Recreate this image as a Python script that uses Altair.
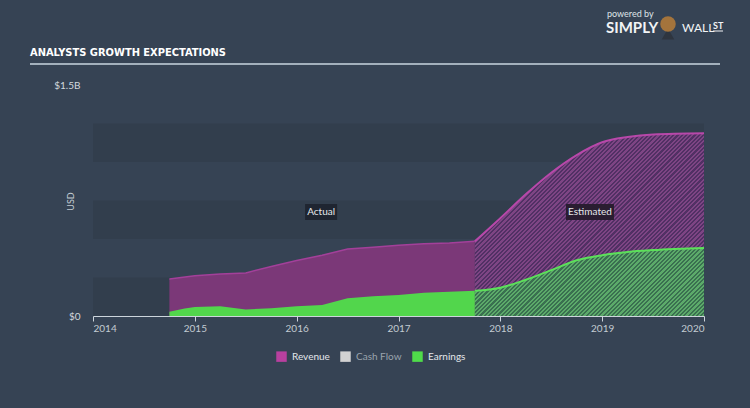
import altair as alt
import pandas as pd

# ---------------- data (values in $ billions) ----------------
rev_act_year = [2014.75, 2015.0, 2015.25, 2015.5, 2015.75, 2016.0, 2016.25, 2016.5, 2016.75, 2017.0, 2017.25, 2017.5, 2017.75]
rev_act_val = [0.240, 0.262, 0.272, 0.280, 0.322, 0.360, 0.395, 0.435, 0.447, 0.459, 0.469, 0.474, 0.485]

earn_act_year = [2014.75, 2014.9, 2015.0, 2015.25, 2015.5, 2015.75, 2016.0, 2016.25, 2016.5, 2016.75, 2017.0, 2017.25, 2017.5, 2017.75]
earn_act_val = [0.028, 0.048, 0.058, 0.063, 0.043, 0.050, 0.064, 0.071, 0.115, 0.128, 0.137, 0.151, 0.158, 0.164]

rev_est_year = [2017.75, 2018.0, 2018.25, 2018.5, 2018.75, 2019.0, 2019.25, 2019.5, 2020.0]
rev_est_val = [0.485, 0.635, 0.790, 0.930, 1.045, 1.128, 1.162, 1.178, 1.186]

earn_est_year = [2017.75, 2018.0, 2018.25, 2018.5, 2018.75, 2019.0, 2019.25, 2019.5, 2020.0]
earn_est_val = [0.164, 0.184, 0.235, 0.298, 0.362, 0.395, 0.416, 0.428, 0.442]

band_lo = [0.0, 0.5, 1.0]
band_hi = [0.25, 0.75, 1.25]

series_names = ["Revenue", "Cash Flow", "Earnings"]
series_colors = ["#b8409f", "#d2d2d2", "#4fdc4a"]

annot_text = ["Actual", "Estimated"]
annot_year = [2016.24, 2018.88]
annot_val = [0.675, 0.675]

title_text = "ANALYSTS GROWTH EXPECTATIONS"

# ---------------- layout ----------------
BG = "#364354"
W, H = 611, 231
X_DOM = [2014, 2020]
Y_DOM = [0, 1.5]
px_per_year = W / (X_DOM[1] - X_DOM[0])
px_per_b = H / (Y_DOM[1] - Y_DOM[0])


def hatch(c1, c2, w_px, h_px, period=3.0):
    r = w_px / h_px
    b = (r + 1) / (r * r + 1)
    a = r * b
    n = int(round((w_px + h_px) / 2 ** 0.5 / period))
    stops = []
    for i in range(n):
        o0, o1, o2 = i / n, (i + 0.5) / n, (i + 1) / n
        stops += [
            alt.GradientStop(offset=o0, color=c1),
            alt.GradientStop(offset=o1, color=c1),
            alt.GradientStop(offset=o1, color=c2),
            alt.GradientStop(offset=o2, color=c2),
        ]
    return alt.Gradient(gradient="linear", stops=stops, x1=0, y1=0, x2=a, y2=b)


est_w = (rev_est_year[-1] - rev_est_year[0]) * px_per_year
rev_hatch = hatch("#513064", "#7e4584", est_w, max(rev_est_val) * px_per_b)
earn_hatch = hatch("#3a7050", "#5caa6a", est_w, max(earn_est_val) * px_per_b)

xscale = alt.Scale(domain=X_DOM, nice=False, zero=False)
yscale = alt.Scale(domain=Y_DOM, nice=False)

x_axis = alt.Axis(
    values=[2014, 2015, 2016, 2017, 2018, 2019, 2020], format="d", title=None,
    domainColor="#cdd5dc", domainWidth=1.2, tickColor="#cdd5dc", tickSize=5,
    labelColor="#c3cbd2", labelFont="Lato", labelFontSize=10, labelPadding=2,
    grid=False,
)
y_axis = alt.Axis(
    values=[0, 1.5], labelExpr="datum.value == 0 ? '$0' : '$1.5B'",
    domain=False, ticks=False, grid=False, labelPadding=13,
    labelColor="#d3d9de", labelFont="Lato", labelFontSize=10,
    title="USD", titleColor="#c3cbd2", titleFont="Lato", titleFontSize=9,
    titleFontWeight="normal", titleX=-18, titleY=116, titleAngle=-90,
)

bands_df = pd.DataFrame({"lo": band_lo, "hi": band_hi, "x0": [X_DOM[0]] * 3, "x1": [X_DOM[1]] * 3})
bands = alt.Chart(bands_df).mark_rect(color="#323e4d").encode(
    x=alt.X("x0:Q", scale=xscale, axis=x_axis), x2="x1:Q",
    y=alt.Y("lo:Q", scale=yscale, axis=y_axis), y2="hi:Q",
)

rev_act = pd.DataFrame({"year": rev_act_year, "v": rev_act_val})
earn_act = pd.DataFrame({"year": earn_act_year, "v": earn_act_val})
rev_est = pd.DataFrame({"year": rev_est_year, "v": rev_est_val})
earn_est = pd.DataFrame({"year": earn_est_year, "v": earn_est_val})

enc = dict(x=alt.X("year:Q", scale=xscale), y=alt.Y("v:Q", scale=yscale))

rev_act_area = alt.Chart(rev_act).mark_area(color="#7b3878", interpolate="linear").encode(**enc)
rev_act_line = alt.Chart(rev_act).mark_line(color="#a3409a", strokeWidth=1.5).encode(**enc)
rev_est_area = alt.Chart(rev_est).mark_area(color=rev_hatch, interpolate="monotone").encode(**enc)
rev_est_line = alt.Chart(rev_est).mark_line(color="#b848aa", strokeWidth=2, interpolate="monotone").encode(**enc)

earn_act_area = alt.Chart(earn_act).mark_area(color="#52d64c", interpolate="linear").encode(**enc)
earn_est_area = alt.Chart(earn_est).mark_area(color=earn_hatch, interpolate="monotone").encode(**enc)
earn_est_line = alt.Chart(earn_est).mark_line(color="#5ce05a", strokeWidth=2, interpolate="monotone").encode(**enc)

annot_df = pd.DataFrame({"t": annot_text, "year": annot_year, "v": annot_val})
annot_enc = dict(x=alt.X("year:Q", scale=xscale), y=alt.Y("v:Q", scale=yscale))
box_actual = alt.Chart(annot_df).transform_filter("datum.t == 'Actual'").mark_rect(
    width=32, height=16, color="#1f2531").encode(**annot_enc)
box_est = alt.Chart(annot_df).transform_filter("datum.t == 'Estimated'").mark_rect(
    width=48, height=16, color="#2a1d31").encode(**annot_enc)
annot_txt = alt.Chart(annot_df).mark_text(color="#e6e9ec", font="Lato", fontSize=10).encode(
    text="t:N", **annot_enc)

legend_df = pd.DataFrame({"series": series_names, "year": [X_DOM[0]] * 3, "v": [0.0] * 3})
legend_layer = alt.Chart(legend_df).mark_square(opacity=0, size=1).encode(
    x=alt.X("year:Q", scale=xscale), y=alt.Y("v:Q", scale=yscale),
    color=alt.Color("series:N", scale=alt.Scale(domain=series_names, range=series_colors),
                    legend=alt.Legend(
                        title=None, orient="none", direction="horizontal",
                        legendX=183, legendY=266, symbolType="square", symbolSize=110,
                        symbolOpacity=1, symbolStrokeWidth=0,
                        labelFont="Lato", labelFontSize=10, labelOffset=5, columnPadding=10,
                        labelColor=alt.expr("datum.label === 'Cash Flow' ? '#9aa3ad' : '#e3e7eb'"),
                    )),
)

# decorations: title, title rule and brand text
one = pd.DataFrame({"a": [0]})
title_mark = alt.Chart(one).mark_text(
    align="left", baseline="middle", font="DejaVu Sans Condensed, Liberation Sans Narrow, sans-serif",
    fontWeight="bold", fontSize=11, color="#ffffff", text=title_text,
).encode(x=alt.value(-63), y=alt.value(-32))
rule = alt.Chart(one).mark_rule(color="#c9d5df", strokeWidth=1.5).encode(
    x=alt.value(-63), x2=alt.value(627), y=alt.value(-21),
)
brand_small = alt.Chart(one).mark_text(align="left", font="Lato", fontSize=9, color="#dfe4e8",
                                       text="powered by").encode(x=alt.value(514), y=alt.value(-71))
brand_simply = alt.Chart(one).mark_text(align="left", font="Lato", fontSize=15, fontWeight="bold",
                                        color="#f2f4f6", text="SIMPLY").encode(x=alt.value(513), y=alt.value(-57))
brand_wall = alt.Chart(one).mark_text(align="left", font="Lato", fontSize=12, fontWeight="normal",
                                      color="#f2f4f6", text="WALL").encode(x=alt.value(589), y=alt.value(-57))
brand_st = alt.Chart(one).mark_text(align="left", font="Lato", fontSize=9, fontWeight="bold",
                                    color="#f2f4f6", text="ST").encode(x=alt.value(620), y=alt.value(-59))
brand_ul = alt.Chart(one).mark_rule(color="#f2f4f6", strokeWidth=1).encode(
    x=alt.value(620), x2=alt.value(630), y=alt.value(-54))
mascot = alt.Chart(one).mark_point(filled=True, color="#b07a3a", size=240, opacity=0.9).encode(
    x=alt.value(575), y=alt.value(-61),
)
mascot_body = alt.Chart(one).mark_point(filled=True, shape="triangle-up", color="#2b2f36", size=160).encode(
    x=alt.value(575), y=alt.value(-51),
)

chart = alt.layer(
    bands, rev_act_area, rev_act_line, rev_est_area, rev_est_line,
    earn_act_area, earn_est_area, earn_est_line,
    box_actual, box_est, annot_txt, legend_layer, title_mark, rule,
    brand_small, brand_simply, brand_wall, brand_st, brand_ul, mascot_body, mascot,
).properties(
    width=W, height=H,
    autosize="none",
    padding={"left": 93, "top": 85, "right": 46, "bottom": 92},
).configure(background=BG).configure_view(stroke=None)

chart.save("out.html", embed_options={"renderer": "svg", "actions": False})
